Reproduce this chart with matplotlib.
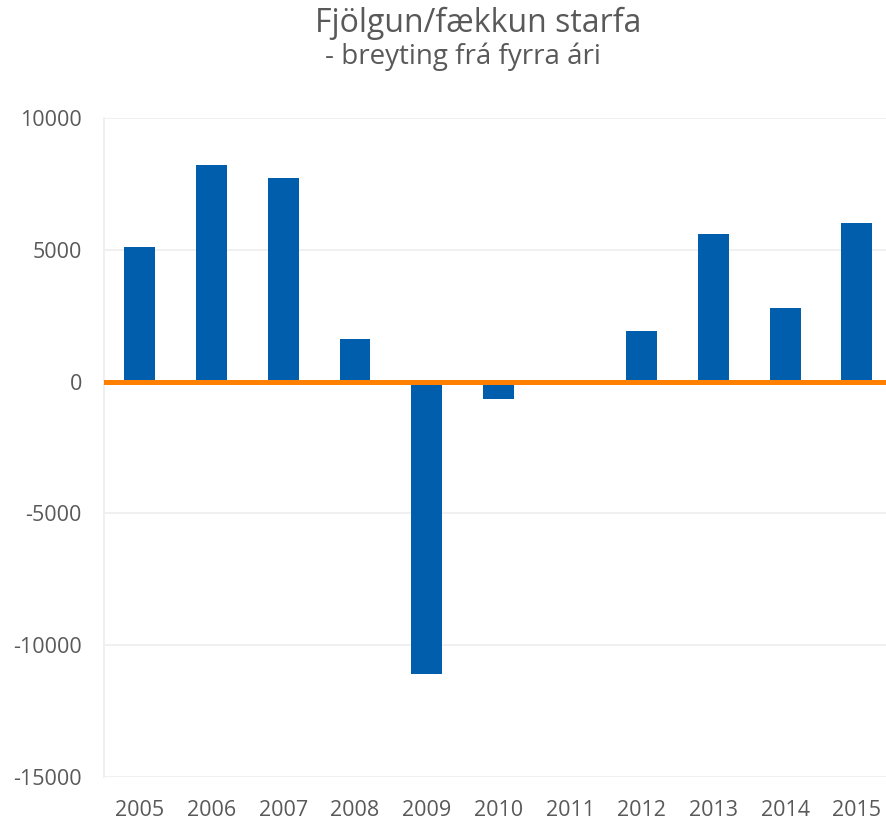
import matplotlib
matplotlib.use("Agg")
import matplotlib.pyplot as plt

plt.rcParams['font.family'] = ['Open Sans', 'DejaVu Sans']

years = ["2005", "2006", "2007", "2008", "2009", "2010",
         "2011", "2012", "2013", "2014", "2015"]
change = [5100, 8200, 7700, 1600, -11100, -650,
          0, 1900, 5600, 2800, 6000]
yticks = [10000, 5000, 0, -5000, -10000, -15000]

BAR = "#005EAC"
ZERO = "#FF7F00"
TXT = "#595959"

fig = plt.figure(figsize=(8.87, 8.19), dpi=100)
ax = fig.add_axes([104 / 887, 1 - 777.3 / 819, 783 / 887, (777.3 - 117.7) / 819])

x = range(len(years))
ax.bar(x, change, width=0.43, color=BAR, zorder=2)
ax.axhline(0, color=ZERO, linewidth=3.6, zorder=3)

ax.set_xlim(-0.5, 10.42)
ax.set_ylim(-15000, 10000)
ax.set_yticks(yticks)
ax.set_yticklabels([str(v) for v in yticks])
ax.set_xticks(list(x))
ax.set_xticklabels(years)
ax.tick_params(axis="both", length=0, labelsize=15.5, colors=TXT)
ax.tick_params(axis="y", pad=16)
ax.tick_params(axis="x", pad=16)
ax.grid(axis="y", color="#EFEFEF", linewidth=1.3, zorder=0)
for s in ["top", "right", "bottom"]:
    ax.spines[s].set_visible(False)
ax.spines["left"].set_color("#EFEFEF")
ax.spines["left"].set_linewidth(1.3)

fig.text(478 / 887, 1 - 32 / 819, "Fjölgun/fækkun starfa", ha="center", va="baseline",
         fontsize=23, color=TXT)
fig.text(463 / 887, 1 - 64 / 819, "- breyting frá fyrra ári", ha="center", va="baseline",
         fontsize=20, color=TXT)

fig.savefig("out.png", dpi=100)
